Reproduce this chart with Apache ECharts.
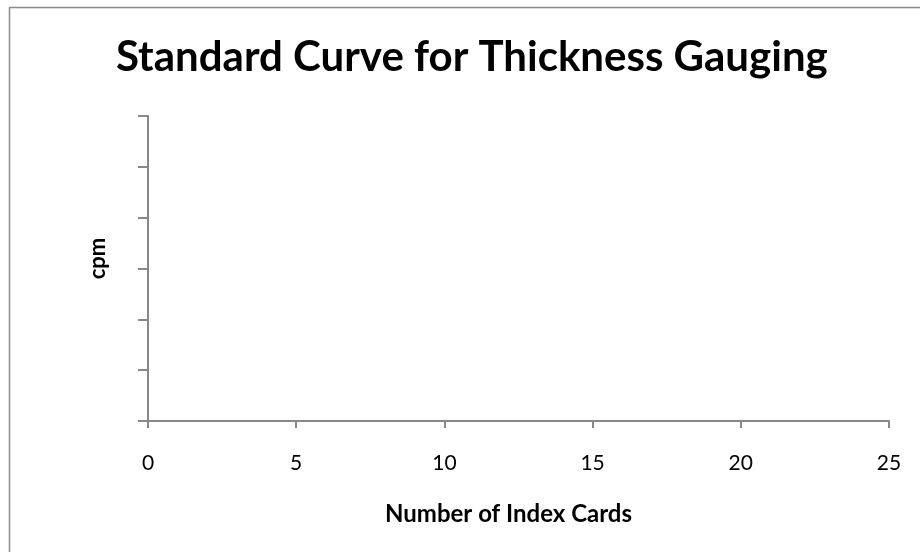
<!DOCTYPE html>
<html>
<head>
<meta charset="utf-8">
<script src="https://cdn.jsdelivr.net/npm/echarts@6/dist/echarts.min.js"></script>
<style>
  html, body { margin: 0; padding: 0; background: #fff; }
  #chart { width: 920px; height: 552px; }
</style>
</head>
<body>
<div id="chart"></div>
<script>
// the reference chart has no plotted points, only the axes
const cards = []
const cpm = []
const xTicks = [0, 5, 10, 15, 20, 25]

const chart = echarts.init(document.getElementById('chart'))
chart.setOption({
  animation: false,
  title: {
    text: 'Standard Curve for Thickness Gauging',
    left: 111,
    top: 31,
    textStyle: { fontFamily: 'Lato', fontWeight: 'bold', fontSize: 42, color: '#000' }
  },
  graphic: [{
    type: 'rect',
    shape: { x: 9.5, y: 7.5, width: 1000, height: 1000 },
    style: { fill: null, stroke: '#8c8c8c', lineWidth: 1.5 }
  }],
  grid: { left: 148, right: 31, top: 116, bottom: 131 },
  xAxis: {
    type: 'value',
    min: xTicks[0],
    max: xTicks[xTicks.length - 1],
    interval: 5,
    name: 'Number of Index Cards',
    nameLocation: 'middle',
    nameGap: 81,
    nameTextStyle: { fontFamily: 'Lato', fontWeight: 'bold', fontSize: 24, color: '#000', padding: [0, 20, 0, 0] },
    axisLine: { lineStyle: { color: '#888', width: 2 } },
    axisTick: { show: true, length: 7, lineStyle: { color: '#888', width: 2 } },
    axisLabel: { margin: 32, fontFamily: 'Lato', fontSize: 21, color: '#000' },
    splitLine: { show: false }
  },
  yAxis: {
    type: 'value',
    min: 0,
    max: 6,
    interval: 1,
    name: 'cpm',
    nameLocation: 'middle',
    nameGap: 39,
    nameTextStyle: { fontFamily: 'Lato', fontWeight: 'bold', fontSize: 22, color: '#000', padding: [0, 0, 0, 20] },
    axisLine: { show: true, lineStyle: { color: '#888', width: 2 } },
    axisTick: { show: true, length: 10, lineStyle: { color: '#888', width: 2 } },
    axisLabel: { show: false },
    splitLine: { show: false }
  },
  series: [{
    type: 'scatter',
    data: cards.map((c, i) => [c, cpm[i]])
  }]
})
</script>
</body>
</html>
